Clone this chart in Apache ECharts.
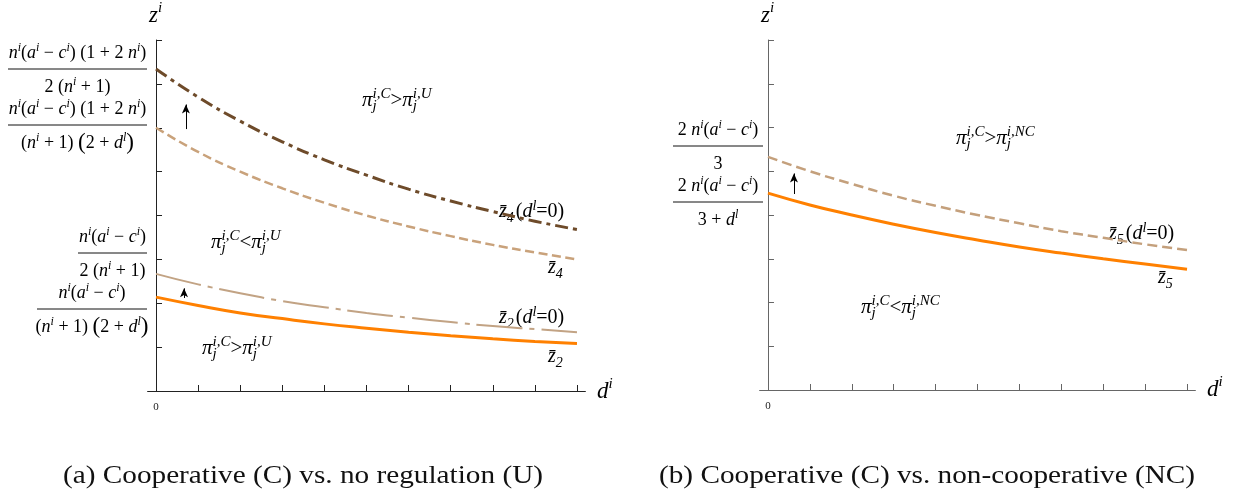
<!DOCTYPE html>
<html>
<head>
<meta charset="utf-8">
<script src="https://cdn.jsdelivr.net/npm/echarts@6/dist/echarts.min.js"></script>
<style>
  html, body { margin: 0; background: #fff; }
  #chart { width: 1237px; height: 500px; }
</style>
</head>
<body>
<div id="chart"></div>
<script>
const dValues = [0, 1, 2, 3, 4, 5, 6, 7, 8, 9, 10];

// panel (a)
const z4NoLeak = [7.34, 6.70, 6.15, 5.68, 5.27, 4.92, 4.60, 4.33, 4.09, 3.87, 3.68];
const z4 = [6.00, 5.45, 5.00, 4.62, 4.29, 4.00, 3.75, 3.53, 3.33, 3.16, 3.00];
const z2NoLeak = [2.67, 2.43, 2.23, 2.05, 1.91, 1.78, 1.67, 1.57, 1.48, 1.41, 1.34];
const z2 = [2.14, 1.95, 1.78, 1.65, 1.53, 1.43, 1.34, 1.26, 1.19, 1.13, 1.08];

// panel (b)
const z5NoLeak = [5.33, 5.00, 4.71, 4.44, 4.21, 4.00, 3.81, 3.63, 3.48, 3.33, 3.20];
const z5 = [4.50, 4.23, 4.00, 3.79, 3.60, 3.43, 3.27, 3.13, 3.00, 2.88, 2.76];

// arrows: [d, from z, to z]
const arrowsA = [[0.71, 5.97, 6.53], [0.665, 2.12, 2.34]];
const arrowsB = [[0.62, 4.48, 4.95]];

const xTicks = [1, 2, 3, 4, 5, 6, 7, 8, 9, 10];

// y tick labels (rich text fractions)
const NUM_LONG = '{i|n}{sp|i}{r|(}{i|a}{sp|i}{r| − }{i|c}{sp|i}{r|) (1 + 2 }{i|n}{sp|i}{r|)}';
const NUM_SHORT = '{i|n}{sp|i}{r|(}{i|a}{sp|i}{r| − }{i|c}{sp|i}{r|)}';
const DEN_2N1 = '{r|2 (}{i|n}{sp|i}{r| + 1)}';
const DEN_N1D = '{r|(}{i|n}{sp|i}{r| + 1) }{big|(}{r|2 + }{i|d}{sp|l}{big|)}';
const NUM_2N = '{r|2 }{i|n}{sp|i}{r|(}{i|a}{sp|i}{r| − }{i|c}{sp|i}{r|)}';
const DEN_3 = '{r|3}';
const DEN_3D = '{r|3 + }{i|d}{sp|l}';

const captionA = '(a) Cooperative (C) vs. no regulation (U)';
const captionB = '(b) Cooperative (C) vs. non-cooperative (NC)';

const SERIF = '"Liberation Serif", "DejaVu Serif", serif';
const INK = '#111';

function richFor(size, supRatio) {
  const s = Math.round(size * (supRatio || 0.64));
  const lh = Math.round(size * 1.3);
  const base = { fontFamily: SERIF, fontSize: size, lineHeight: lh, color: INK };
  const small = { fontFamily: SERIF, fontStyle: 'italic', fontSize: s, lineHeight: s, color: INK };
  return {
    i: Object.assign({}, base, { fontStyle: 'italic' }),
    r: base,
    big: Object.assign({}, base, { fontSize: Math.round(size * 1.25) }),
    sp: Object.assign({}, small, { verticalAlign: 'top' }),
    sb: Object.assign({}, small, { verticalAlign: 'bottom', padding: [0, 2, 0, 0] }),
    sb0: Object.assign({}, small, { verticalAlign: 'bottom', width: 0 })
  };
}

function mathText(text, x, y, size, align, supRatio) {
  return {
    type: 'text',
    x: x,
    y: y,
    silent: true,
    style: {
      text: text,
      rich: richFor(size, supRatio),
      align: align || 'left',
      verticalAlign: 'middle'
    }
  };
}

function fraction(num, den, x1, x2, barY, size) {
  const cx = (x1 + x2) / 2;
  return [
    mathText(num, cx, barY - 16, size, 'center'),
    {
      type: 'line',
      silent: true,
      shape: { x1: x1, y1: barY, x2: x2, y2: barY },
      style: { stroke: INK, lineWidth: 1 }
    },
    mathText(den, cx, barY + 18, size, 'center')
  ];
}

function caption(text, x, y) {
  return {
    type: 'text',
    x: x,
    y: y,
    scaleX: 1.17,
    silent: true,
    style: {
      text: text,
      fontFamily: SERIF,
      fontSize: 25,
      fill: INK,
      align: 'center',
      verticalAlign: 'middle'
    }
  };
}

const piGreater = (b) => '{i|π}{sb0|j}{sp|i,C}{r|>}{i|π}{sb0|j}{sp|i,' + b + '}';
const piLess = (b) => '{i|π}{sb0|j}{sp|i,C}{r|<}{i|π}{sb0|j}{sp|i,' + b + '}';
const zbar = (k, tail) => '{i|z\u0304}{sb|' + k + '}' + (tail ? '{r|(}{i|d}{sp|l}{r|=0)}' : '');

const pairs = (ys) => dValues.map((d, i) => [d, ys[i]]);

function arrowLines(list) {
  return {
    silent: true,
    symbol: ['none', 'arrow'],
    // a plain [w, h] pair: the item model falls back to it for both ends
    symbolSize: [6, 9],
    label: { show: false },
    lineStyle: { color: '#000', width: 1, type: 'solid' },
    itemStyle: { color: '#000' },
    emphasis: { disabled: true },
    data: list.map((a) => [{ coord: [a[0], a[1]] }, { coord: [a[0], a[2]] }])
  };
}

function xAxisFor(gridIndex, color) {
  return {
    type: 'value',
    gridIndex: gridIndex,
    min: -0.2,
    max: 10.2,
    axisLine: { lineStyle: { color: color, width: 1 } },
    axisTick: { inside: true, length: 6, customValues: xTicks, lineStyle: { color: color } },
    axisLabel: {
      customValues: [0],
      formatter: '0',
      fontFamily: SERIF,
      fontSize: 11,
      color: '#222',
      margin: 11
    },
    splitLine: { show: false }
  };
}

function yAxisFor(gridIndex, color) {
  return {
    type: 'value',
    gridIndex: gridIndex,
    min: 0,
    max: 8,
    interval: 1,
    axisLine: { show: true, onZero: true, lineStyle: { color: color, width: 1 } },
    axisTick: { show: true, inside: true, length: 6, lineStyle: { color: color } },
    axisLabel: { show: false },
    splitLine: { show: false }
  };
}

const chart = echarts.init(document.getElementById('chart'));

chart.setOption({
  animation: false,
  backgroundColor: '#fff',
  grid: [
    { left: 147.6, top: 40, width: 437.8, height: 351 },
    { left: 759.6, top: 40, width: 435.8, height: 350 }
  ],
  xAxis: [xAxisFor(0, '#222'), xAxisFor(1, '#666')],
  yAxis: [yAxisFor(0, '#222'), yAxisFor(1, '#666')],
  series: [
    {
      name: 'z4 (dl=0)',
      type: 'line',
      xAxisIndex: 0,
      yAxisIndex: 0,
      smooth: true,
      showSymbol: false,
      data: pairs(z4NoLeak),
      lineStyle: { color: '#6e4b2a', width: 3, type: [13, 5, 4, 5] }
    },
    {
      name: 'z4',
      type: 'line',
      xAxisIndex: 0,
      yAxisIndex: 0,
      smooth: true,
      showSymbol: false,
      data: pairs(z4),
      lineStyle: { color: '#c9a27b', width: 2.5, type: [9, 4.5] },
      markLine: arrowLines([arrowsA[0]])
    },
    {
      name: 'z2 (dl=0)',
      type: 'line',
      xAxisIndex: 0,
      yAxisIndex: 0,
      smooth: true,
      showSymbol: false,
      data: pairs(z2NoLeak),
      lineStyle: { color: '#c2a384', width: 2, type: [46, 7, 5, 7] }
    },
    {
      name: 'z2',
      type: 'line',
      xAxisIndex: 0,
      yAxisIndex: 0,
      smooth: true,
      showSymbol: false,
      data: pairs(z2),
      lineStyle: { color: '#ff8000', width: 3 },
      markLine: arrowLines([arrowsA[1]])
    },
    {
      name: 'z5 (dl=0)',
      type: 'line',
      xAxisIndex: 1,
      yAxisIndex: 1,
      smooth: true,
      showSymbol: false,
      data: pairs(z5NoLeak),
      lineStyle: { color: '#c4a07c', width: 2.5, type: [10, 5] }
    },
    {
      name: 'z5',
      type: 'line',
      xAxisIndex: 1,
      yAxisIndex: 1,
      smooth: true,
      showSymbol: false,
      data: pairs(z5),
      lineStyle: { color: '#ff8000', width: 3 },
      markLine: arrowLines(arrowsB)
    }
  ],
  graphic: [].concat(
    // panel (a) y labels
    fraction(NUM_LONG, DEN_2N1, 8, 147, 69, 18),
    fraction(NUM_LONG, DEN_N1D, 8, 147, 125, 18),
    fraction(NUM_SHORT, DEN_2N1, 78, 147, 253, 18),
    fraction(NUM_SHORT, DEN_N1D, 37, 147, 309, 18),
    // panel (b) y labels
    fraction(NUM_2N, DEN_3, 673, 763, 146, 18),
    fraction(NUM_2N, DEN_3D, 673, 763, 202, 18),
    [
      mathText('{i|z}{sp|i}', 149, 16, 23),
      mathText('{i|d}{sp|i}', 597, 392, 23),
      mathText('{i|z}{sp|i}', 761, 16, 23),
      mathText('{i|d}{sp|i}', 1207, 390, 23),

      mathText(piGreater('U'), 362, 100, 21, 'left', 0.7),
      mathText(piLess('U'), 211, 242, 21, 'left', 0.7),
      mathText(piGreater('U'), 202, 348, 21, 'left', 0.7),
      mathText(piGreater('NC'), 956, 138, 21, 'left', 0.7),
      mathText(piLess('NC'), 861, 307, 21, 'left', 0.7),

      mathText(zbar('4', true), 499, 212, 20, 'left', 0.72),
      mathText(zbar('4', false), 548, 268, 20, 'left', 0.72),
      mathText(zbar('2', true), 499, 318, 20, 'left', 0.72),
      mathText(zbar('2', false), 548, 357, 20, 'left', 0.72),
      mathText(zbar('5', true), 1109, 234, 20, 'left', 0.72),
      mathText(zbar('5', false), 1158, 278, 20, 'left', 0.72),

      caption(captionA, 303, 476),
      caption(captionB, 927, 476)
    ]
  )
});
</script>
</body>
</html>
